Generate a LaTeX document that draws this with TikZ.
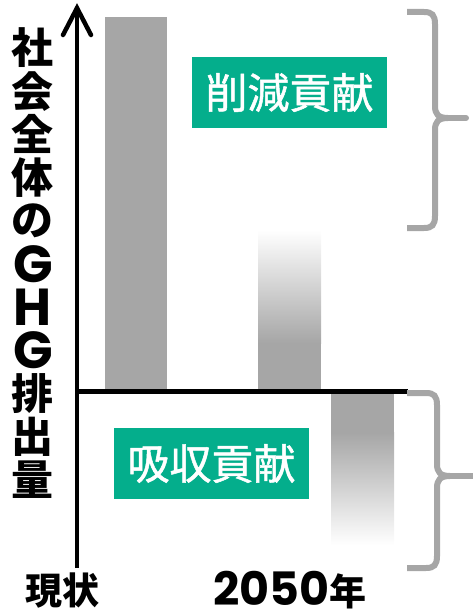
\documentclass[tikz,border=0pt]{standalone}
\usepackage{fontspec}
\setmainfont{Noto Sans CJK JP}
\newfontfamily\pop{Poppins}
\newfontfamily\jpbox{Noto Sans CJK JP}[FakeBold=1.2]
\usetikzlibrary{calc}
\definecolor{gbar}{RGB}{166,166,166}
\definecolor{tgreen}{RGB}{4,174,140}
\newcommand{\latinG}[1]{{\pop\fontsize{52}{52}\selectfont #1}}
\tikzset{
  vl/.style={inner sep=0pt, font=\fontsize{42}{42}\selectfont\bfseries},
  gbox/.style={fill=tgreen, text=white, inner sep=0pt, minimum width=195pt, minimum height=71pt, font=\jpbox\fontsize{42}{42}\selectfont},
  bottomlbl/.style={inner sep=0pt, anchor=base, text depth=0pt, font=\fontsize{37}{37}\selectfont\bfseries},
  axisline/.style={line width=4.5pt, black},
  bracestyle/.style={line width=6pt, gbar},
}
\begin{document}
\begin{tikzpicture}[x=1pt, y=-1pt]
\useasboundingbox (0,0) rectangle (472,612);
% bars
\fill[gbar] (105,17) rectangle (167,392);
\shade[top color=white, bottom color=gbar] (258,230) rectangle (321,343);
\fill[gbar] (258,342.5) rectangle (321,392);
\fill[gbar] (331,390) rectangle (394,433);
\shade[top color=gbar, bottom color=white] (331,432.5) rectangle (394,545);
% axis
\coordinate (ytop) at (77,8);
\coordinate (ybot) at (77,568);
\coordinate (b0) at (77,391);
\coordinate (b1) at (408,391);
\draw[axisline] (ybot) -- ($(ytop)+(0,4)$);
\draw[axisline, line join=miter, line cap=round] ($(ytop)+(-14,27)$) -- (ytop) -- ($(ytop)+(14,27)$);
\draw[axisline, line width=5pt] (b0) -- (b1);
% braces
\coordinate (ua) at (407,12);
\coordinate (ub) at (407,228);
\draw[bracestyle] (ua) -- (424,12) .. controls (432,12) and (435,15) .. (435,24) -- (435,106) .. controls (435,114) and (438,118) .. (448,118);
\draw[bracestyle] (ub) -- (424,228) .. controls (432,228) and (435,225) .. (435,216) -- (435,130) .. controls (435,122) and (438,118) .. (448,118);
\draw[bracestyle, line cap=round] (447,118) -- (466,118);
\coordinate (la) at (407,393);
\coordinate (lb) at (407,568);
\draw[bracestyle] (la) -- (426,393) .. controls (434,393) and (437,396) .. (437,405) -- (437,464) .. controls (437,472) and (440,476) .. (450,476);
\draw[bracestyle] (lb) -- (426,568) .. controls (434,568) and (437,565) .. (437,556) -- (437,488) .. controls (437,480) and (440,476) .. (450,476);
\draw[bracestyle, line cap=round] (449,476) -- (476,476);
% green labels
\node[gbox] (reduce) at (289.5,92.5) {削減貢献};
\node[gbox] (absorb) at (211.5,463.5) {吸収貢献};
% vertical label
\foreach \c [count=\i from 0] in {社,会,全,体,の,\latinG{G},\latinG{H},\latinG{G},排,出,量}
  \node[vl] (v\i) at (33,48+43.2*\i) {\c};
% bottom labels
\node[bottomlbl] (now) at (62,604) {現状};
\node[bottomlbl] (y2050) at (290,605) {{\pop\fontsize{46}{46}\selectfont 2050}年};
\end{tikzpicture}
\end{document}
